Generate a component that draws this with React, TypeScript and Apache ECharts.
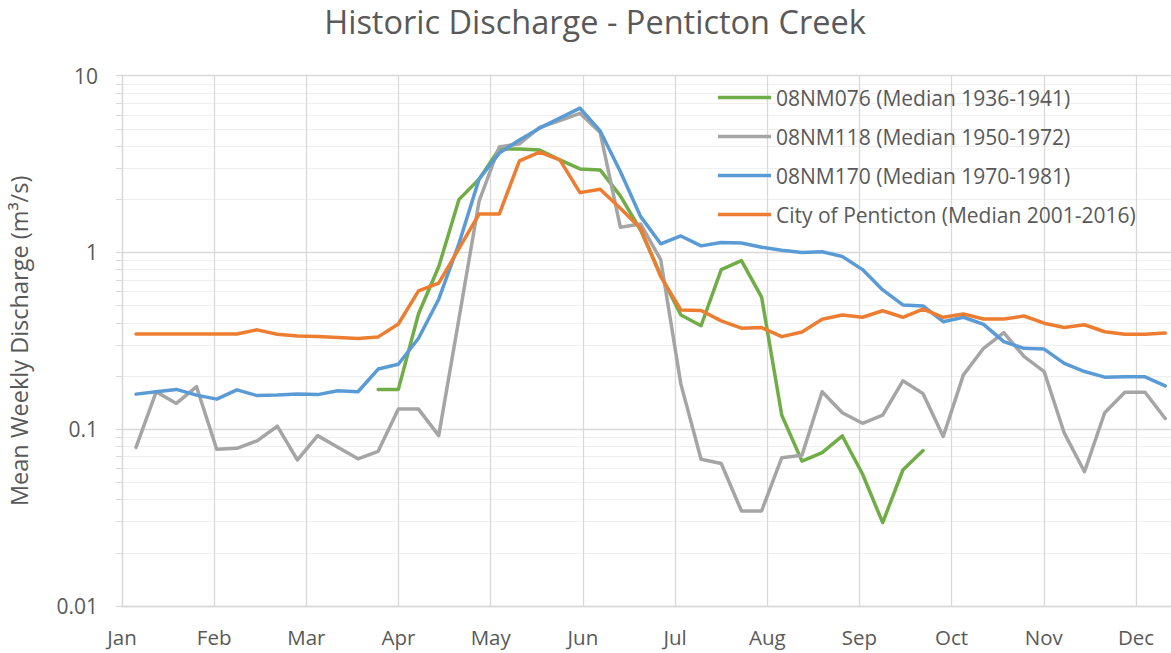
import React, { useEffect, useRef } from 'react';
import * as echarts from 'echarts';

const weeks = [1, 2, 3, 4, 5, 6, 7, 8, 9, 10, 11, 12, 13, 14, 15, 16, 17, 18, 19, 20, 21, 22, 23, 24, 25, 26,
  27, 28, 29, 30, 31, 32, 33, 34, 35, 36, 37, 38, 39, 40, 41, 42, 43, 44, 45, 46, 47, 48, 49, 50, 51, 52];

const months = ['Jan', 'Feb', 'Mar', 'Apr', 'May', 'Jun', 'Jul', 'Aug', 'Sep', 'Oct', 'Nov', 'Dec'];

const seriesNames = [
  '08NM076 (Median 1936-1941)',
  '08NM118 (Median 1950-1972)',
  '08NM170 (Median 1970-1981)',
  'City of Penticton (Median 2001-2016)',
];

const nm076: (number | null)[] = [
  null, null, null, null, null, null, null, null, null, null, null, null,
  0.168, 0.168, 0.45, 0.83, 1.99, 2.6, 3.85, 3.85, 3.8, 3.34, 2.97, 2.93, 2.09, 1.34,
  0.746, 0.443, 0.385, 0.8, 0.9, 0.559, 0.12, 0.066, 0.0738, 0.0916, 0.0558, 0.0296, 0.0588, 0.0757,
  null, null, null, null, null, null, null, null, null, null, null, null,
];

const nm118: number[] = [
  0.079, 0.163, 0.14, 0.174, 0.077, 0.078, 0.086, 0.104, 0.067, 0.092, 0.079, 0.068, 0.075,
  0.13, 0.13, 0.092, 0.42, 1.95, 3.95, 4.12, 5.1, 5.57, 6.13, 4.78, 1.39, 1.45,
  0.91, 0.18, 0.0676, 0.064, 0.0345, 0.0345, 0.069, 0.0713, 0.163, 0.124, 0.108, 0.12, 0.188,
  0.159, 0.091, 0.203, 0.287, 0.352, 0.258, 0.212, 0.095, 0.0575, 0.124, 0.162, 0.162, 0.115,
];

const nm170: number[] = [
  0.158, 0.163, 0.168, 0.156, 0.148, 0.167, 0.155, 0.156, 0.158, 0.157, 0.165, 0.163, 0.219,
  0.233, 0.327, 0.544, 1.12, 2.6, 3.65, 4.33, 5.05, 5.75, 6.56, 4.87, 2.87, 1.6,
  1.12, 1.24, 1.09, 1.14, 1.13, 1.07, 1.03, 1.0, 1.01, 0.948, 0.8, 0.614, 0.505,
  0.498, 0.406, 0.43, 0.392, 0.313, 0.287, 0.284, 0.236, 0.212, 0.197, 0.198, 0.198, 0.176,
];

const penticton: number[] = [
  0.346, 0.346, 0.346, 0.346, 0.346, 0.346, 0.365, 0.345, 0.337, 0.335, 0.33, 0.326, 0.333,
  0.394, 0.606, 0.67, 1.05, 1.65, 1.65, 3.3, 3.7, 3.34, 2.18, 2.28, 1.78, 1.37,
  0.73, 0.473, 0.47, 0.41, 0.373, 0.376, 0.334, 0.355, 0.419, 0.443, 0.43, 0.468, 0.43,
  0.478, 0.43, 0.449, 0.42, 0.42, 0.437, 0.398, 0.376, 0.39, 0.356, 0.345, 0.345, 0.35,
];

const colors = ['#70ad47', '#a5a5a5', '#5b9bd5', '#ed7d31'];
const allValues = [nm076, nm118, nm170, penticton];

const FONT = "'Open Sans', sans-serif";
const TEXT = '#595959';
const GRID = '#d9d9d9';

export default function App() {
  const ref = useRef<HTMLDivElement>(null);

  useEffect(() => {
    const chart = echarts.init(ref.current!, null, { renderer: 'svg' });
    const toPairs = (vals: (number | null)[]) =>
      weeks.map((w, i) => [w, vals[i] == null ? '-' : vals[i]]);

    const option: any = {
      animation: false,
      textStyle: { fontFamily: FONT },
      title: {
        text: 'Historic Discharge - Penticton Creek',
        left: 590,
        textAlign: 'center',
        top: 0,
        textStyle: { fontSize: 32.5, fontWeight: 'normal', color: TEXT, fontFamily: FONT },
      },
      legend: {
        orient: 'vertical',
        left: 718,
        top: 87,
        padding: 0,
        icon: 'rect',
        itemWidth: 53,
        itemHeight: 3.5,
        itemGap: 18,
        textStyle: { fontSize: 21, color: TEXT, fontFamily: FONT },
        data: seriesNames,
      },
      grid: {
        left: 122,
        top: 75.7,
        bottom: 47,
        right: -14.4,
        containLabel: false,
        outerBoundsMode: 'none',
      },
      xAxis: [
        {
          type: 'value',
          min: 0.306,
          max: 53,
          show: false,
          position: 'bottom',
        },
        {
          type: 'value',
          min: 0,
          max: 11.536,
          interval: 1,
          position: 'bottom',
          axisLine: { show: true, lineStyle: { color: GRID, width: 1.3 } },
          axisTick: { show: false },
          splitLine: { show: true, lineStyle: { color: GRID, width: 1.3 } },
          axisLabel: {
            color: TEXT,
            fontSize: 20.5,
            fontFamily: FONT,
            margin: 20,
            formatter: (v: number) => (Number.isInteger(v) && months[v] ? months[v] : ''),
          },
        },
      ],
      yAxis: {
        type: 'log',
        logBase: 10,
        min: 0.01,
        max: 10,
        name: 'Mean Weekly Discharge (m³/s)',
        nameLocation: 'middle',
        nameGap: 91,
        nameTextStyle: { fontSize: 23.5, color: TEXT, fontFamily: FONT },
        axisLine: { show: true, lineStyle: { color: GRID, width: 1.3 } },
        axisTick: { show: true, inside: false, length: 6, lineStyle: { color: GRID, width: 1.3 } },
        minorTick: { show: true, splitNumber: 9, length: 6, lineStyle: { color: GRID, width: 1 } },
        splitLine: { show: true, lineStyle: { color: GRID, width: 1.3 } },
        minorSplitLine: { show: true, lineStyle: { color: '#efefef', width: 1 } },
        axisLabel: {
          color: TEXT,
          fontSize: 21,
          fontFamily: FONT,
          margin: 24,
          formatter: (v: number) => String(v),
        },
      },
      series: allValues.map((vals, i) => ({
        name: seriesNames[i],
        type: 'line',
        xAxisIndex: 0,
        yAxisIndex: 0,
        data: toPairs(vals),
        symbol: 'none',
        showSymbol: false,
        connectNulls: false,
        color: colors[i],
        lineStyle: { color: colors[i], width: 3.5, cap: 'round', join: 'round' },
        itemStyle: { color: colors[i] },
      })),
    };

    chart.setOption(option);
    return () => chart.dispose();
  }, []);

  return (
    <div
      ref={ref}
      style={{ position: 'fixed', left: 0, top: 0, width: 1171, height: 653, background: '#ffffff' }}
    />
  );
}
